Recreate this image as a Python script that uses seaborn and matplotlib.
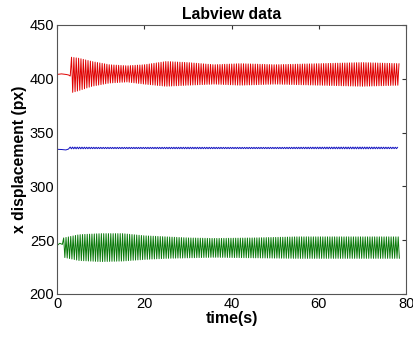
import numpy as np
import pandas as pd
import seaborn as sns
import matplotlib.pyplot as plt

# envelope: time knots (s), upper and lower extremes (px)
red_t = [3.3, 5, 8, 12, 16, 20, 25, 30, 36, 42, 50, 60, 70, 78.5]
red_hi = [420, 419, 416, 413, 412, 413, 416, 415, 413, 414, 413, 414, 415, 414]
red_lo = [387, 389, 393, 396, 397, 395, 393, 394, 395, 394, 395, 394, 393, 394]
red_start_t = [0, 1.0, 2.0, 2.6, 3.0]
red_start_y = [404, 404.5, 404, 403.5, 402.5]

blue_t = [3.0, 10, 20, 30, 40, 50, 60, 70, 78.3]
blue_hi = [336.5, 336.2, 336.2, 336.3, 336.2, 336.2, 336.4, 336.5, 336.3]
blue_lo = [334.8, 335.0, 335.0, 334.9, 335.0, 335.0, 334.9, 334.8, 335.0]
blue_start_t = [0, 1.0, 2.0, 2.6]
blue_start_y = [334.4, 334.2, 333.8, 334.6]

green_t = [1.5, 5, 10, 15, 20, 25, 30, 36, 45, 55, 65, 78.5]
green_hi = [252, 255, 256, 256, 254, 253, 252, 251.5, 252, 253, 253, 253]
green_lo = [234, 231, 230, 230.5, 232, 233, 233.5, 234, 233.5, 233, 233, 233]
green_start_t = [0, 0.6, 1.2]
green_start_y = [245, 247, 246]

half_period = 0.27  # seconds between a peak and the next trough


def zigzag(t_knots, hi, lo, start_t, start_y):
    t = np.arange(t_knots[0], t_knots[-1], half_period)
    up = np.interp(t, t_knots, hi)
    down = np.interp(t, t_knots, lo)
    y = np.where(np.arange(len(t)) % 2 == 0, up, down)
    return np.concatenate([start_t, t]), np.concatenate([start_y, y])


sns.set_style("white")
plt.rcParams["font.family"] = ["Liberation Sans", "DejaVu Sans"]
plt.rcParams["text.color"] = "black"
plt.rcParams["axes.labelcolor"] = "black"

fig = plt.figure(figsize=(4.14, 3.37), dpi=100)
ax = fig.add_axes([0.138, 0.128, 0.843, 0.798])

for (tk, hi, lo, st, sy), color in [
    ((red_t, red_hi, red_lo, red_start_t, red_start_y), "#e00000"),
    ((blue_t, blue_hi, blue_lo, blue_start_t, blue_start_y), "#1010c0"),
    ((green_t, green_hi, green_lo, green_start_t, green_start_y), "#0a7a0a"),
]:
    x, y = zigzag(tk, hi, lo, st, sy)
    df = pd.DataFrame({"t": x, "y": y})
    sns.lineplot(data=df, x="t", y="y", color=color, linewidth=0.7,
                 estimator=None, sort=False, ax=ax)

ax.set_xlim(0, 80)
ax.set_ylim(200, 450)
ax.set_xticks([0, 20, 40, 60, 80])
ax.set_yticks([200, 250, 300, 350, 400, 450])
ax.tick_params(direction="in", length=3, width=0.8, colors="#333333",
               labelcolor="black", labelsize=10.5, top=True, right=True, pad=2)
for s in ax.spines.values():
    s.set_visible(True)
    s.set_color("#555555")
    s.set_linewidth(0.8)

ax.set_title("Labview data", fontsize=11.3, fontweight="bold", pad=4, color="black")
ax.set_xlabel("time(s)", fontsize=11.5, fontweight="bold", labelpad=0)
ax.set_ylabel("x displacement (px)", fontsize=11.3, fontweight="bold", labelpad=2)

fig.savefig("out.png", dpi=100)
plt.close(fig)
